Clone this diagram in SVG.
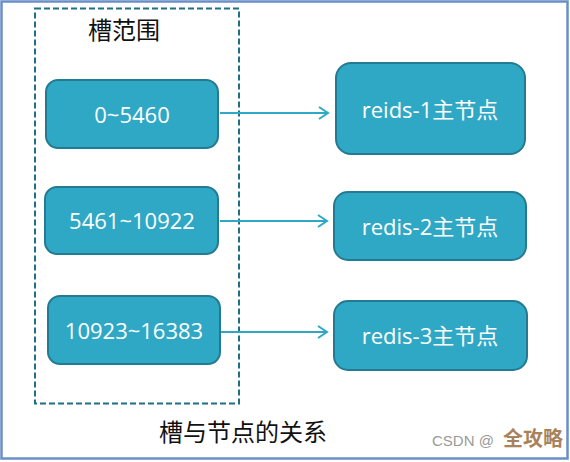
<svg xmlns="http://www.w3.org/2000/svg" width="570" height="462" viewBox="0 0 570 462">
<defs>
<style>
.frame{fill:#fff;stroke:#6a8fc8;stroke-width:2.5}
.box{fill:#2fa8c5;stroke:#247a91;stroke-width:2}
.lbl{fill:#fff;font-family:"Open Sans","Noto Sans CJK SC",sans-serif;font-size:22px;text-anchor:middle;dominant-baseline:central}
.ttl{fill:#111;font-family:"Noto Sans CJK SC",sans-serif;font-size:24px;text-anchor:middle;dominant-baseline:central}
.conn{stroke:#2fa8c5;stroke-width:2;fill:none}
</style>
<marker id="ah" markerWidth="14" markerHeight="14" refX="11" refY="7" orient="auto" markerUnits="userSpaceOnUse">
<path d="M2,1 L11,7 L2,13" fill="none" stroke="#2fa8c5" stroke-width="2"/>
</marker>
</defs>
<rect class="frame" x="1.5" y="1.5" width="566" height="457"/>
<g id="slot-range">
<rect x="35" y="8.5" width="204" height="395" fill="none" stroke="#1f6f86" stroke-width="2" stroke-dasharray="6,3"/>
<text class="ttl" x="124" y="28">槽范围</text>
</g>
<g id="connectors">
<line class="conn" x1="220" y1="113" x2="328" y2="113" marker-end="url(#ah)"/>
<line class="conn" x1="220" y1="221" x2="327" y2="221" marker-end="url(#ah)"/>
<line class="conn" x1="220" y1="332" x2="327" y2="332" marker-end="url(#ah)"/>
</g>
<g id="slot1"><rect class="box" x="46" y="80" width="172" height="68" rx="12"/><text class="lbl" x="132" y="114">0~5460</text></g>
<g id="slot2"><rect class="box" x="45" y="187" width="173" height="67" rx="12"/><text class="lbl" x="132" y="220">5461~10922</text></g>
<g id="slot3"><rect class="box" x="48" y="296" width="172" height="68" rx="12"/><text class="lbl" x="134" y="330">10923~16383</text></g>
<g id="node1"><rect class="box" x="336" y="63" width="189" height="91" rx="15"/><text class="lbl" x="430" y="109">reids-1主节点</text></g>
<g id="node2"><rect class="box" x="334" y="192" width="192" height="68" rx="14"/><text class="lbl" x="430" y="226">redis-2主节点</text></g>
<g id="node3"><rect class="box" x="334" y="301" width="193" height="69" rx="14"/><text class="lbl" x="430" y="335">redis-3主节点</text></g>
<text class="ttl" x="243" y="430">槽与节点的关系</text>
<text x="432" y="446" fill="#9a9a9a" font-family="'Liberation Sans',sans-serif" font-size="15">CSDN @</text>
<text x="503" y="446" fill="#a8825a" font-family="'Noto Sans CJK SC',sans-serif" font-size="20" font-weight="bold">全攻略</text>
</svg>
